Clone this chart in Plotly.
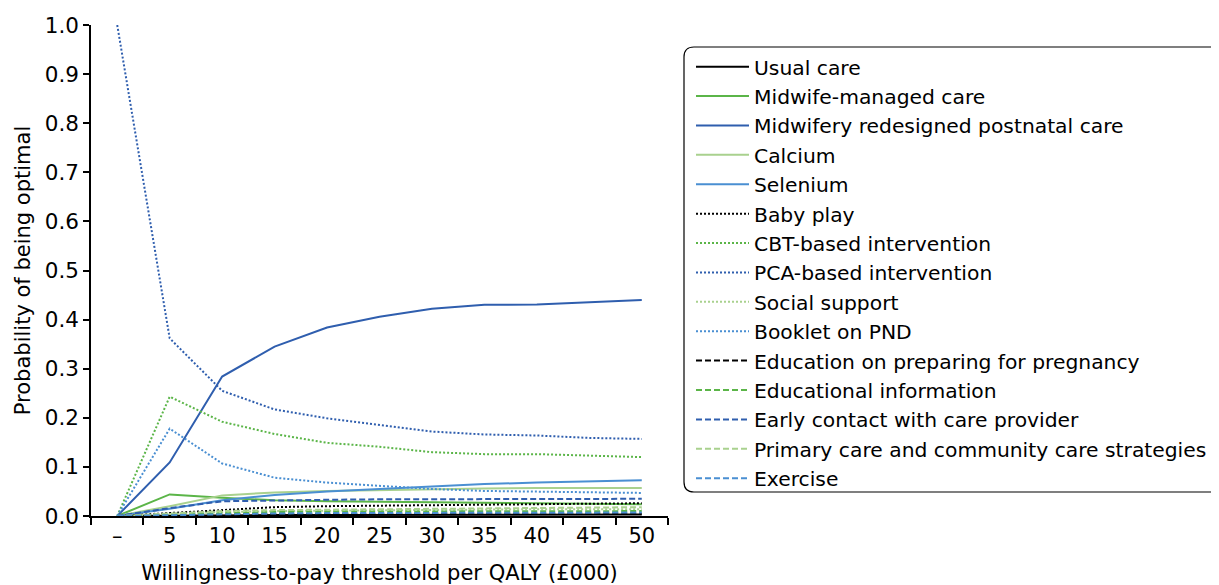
import plotly.graph_objects as go

categories = ["–", "5", "10", "15", "20", "25", "30", "35", "40", "45", "50"]

usual_care = [0, 0.001, 0.001, 0.002, 0.002, 0.002, 0.002, 0.003, 0.003, 0.003, 0.003]
midwife_managed = [0, 0.044, 0.037, 0.032, 0.030, 0.029, 0.028, 0.027, 0.026, 0.025, 0.024]
midwifery_redesigned = [0, 0.109, 0.284, 0.345, 0.384, 0.406, 0.422, 0.430, 0.431, 0.436, 0.440]
calcium = [0, 0.020, 0.042, 0.048, 0.051, 0.053, 0.055, 0.056, 0.057, 0.057, 0.057]
selenium = [0, 0.015, 0.032, 0.043, 0.050, 0.055, 0.059, 0.065, 0.068, 0.071, 0.073]
baby_play = [0, 0.006, 0.013, 0.018, 0.020, 0.021, 0.022, 0.024, 0.025, 0.026, 0.026]
cbt = [0, 0.243, 0.192, 0.167, 0.149, 0.141, 0.130, 0.126, 0.126, 0.123, 0.120]
pca = [1.0, 0.362, 0.255, 0.217, 0.199, 0.185, 0.172, 0.166, 0.164, 0.159, 0.157]
social_support = [0, 0.004, 0.008, 0.010, 0.011, 0.012, 0.013, 0.013, 0.014, 0.014, 0.014]
booklet = [0, 0.178, 0.107, 0.078, 0.068, 0.062, 0.055, 0.051, 0.050, 0.049, 0.047]
edu_preparing = [0, 0.002, 0.003, 0.004, 0.004, 0.004, 0.005, 0.005, 0.005, 0.005, 0.005]
edu_info = [0, 0.003, 0.006, 0.008, 0.009, 0.009, 0.009, 0.010, 0.010, 0.010, 0.010]
early_contact = [0, 0.016, 0.030, 0.032, 0.033, 0.034, 0.034, 0.035, 0.035, 0.035, 0.035]
primary_care = [0, 0.005, 0.010, 0.012, 0.013, 0.014, 0.015, 0.016, 0.017, 0.018, 0.018]
exercise = [0, 0.002, 0.004, 0.005, 0.006, 0.006, 0.007, 0.007, 0.007, 0.007, 0.007]

BLACK = "#000000"
GREEN = "#5BB548"
DBLUE = "#2F5EAE"
LGREEN = "#A9D18E"
LBLUE = "#4A8FD2"
DOT = "2px,2px"
DASH = "6px,3px"

series = [
    ("Usual care", usual_care, BLACK, "solid"),
    ("Midwife-managed care", midwife_managed, GREEN, "solid"),
    ("Midwifery redesigned postnatal care", midwifery_redesigned, DBLUE, "solid"),
    ("Calcium", calcium, LGREEN, "solid"),
    ("Selenium", selenium, LBLUE, "solid"),
    ("Baby play", baby_play, BLACK, DOT),
    ("CBT-based intervention", cbt, GREEN, DOT),
    ("PCA-based intervention", pca, DBLUE, DOT),
    ("Social support", social_support, LGREEN, DOT),
    ("Booklet on PND", booklet, LBLUE, DOT),
    ("Education on preparing for pregnancy", edu_preparing, BLACK, DASH),
    ("Educational information", edu_info, GREEN, DASH),
    ("Early contact with care provider", early_contact, DBLUE, DASH),
    ("Primary care and community care strategies", primary_care, LGREEN, DASH),
    ("Exercise", exercise, LBLUE, DASH),
]

fig = go.Figure()
for name, vals, col, dash in series:
    fig.add_trace(go.Scatter(
        x=categories, y=vals, mode="lines", name=name,
        line=dict(color=col, width=2, dash=dash),
    ))

FONT = "DejaVu Sans"
FIG_W, FIG_H = 1211, 577
fig.update_layout(
    width=FIG_W, height=FIG_H,
    margin=dict(l=83, r=551, t=17, b=69, autoexpand=False),
    paper_bgcolor="white", plot_bgcolor="white",
    font=dict(family=FONT, size=20, color="#000000"),
    showlegend=True,
    legend=dict(
        xref="container", yref="container",
        x=683 / FIG_W, y=1 - 39 / FIG_H, xanchor="left", yanchor="top",
        font=dict(family=FONT, size=20.3, color="#000000"),
        bgcolor="rgba(0,0,0,0)",
        itemwidth=53,
        maxheight=560,
    ),
    xaxis=dict(
        type="category", range=[-0.5, 10.5], automargin=True,
        showline=True, linecolor="#000000", linewidth=1.5,
        ticks="outside", tickson="boundaries", ticklen=7, tickcolor="#000000", tickwidth=1.5,
        showgrid=False, zeroline=False,
        tickfont=dict(size=21),
        title=dict(text="Willingness-to-pay threshold per QALY (£000)", font=dict(size=21), standoff=23),
    ),
    yaxis=dict(
        range=[0, 1.0], dtick=0.1, tickformat=".1f", automargin=False,
        showline=True, linecolor="#000000", linewidth=1.5,
        ticks="outside", ticklen=6, tickcolor="#000000", tickwidth=1.5,
        showgrid=False, zeroline=False,
        tickfont=dict(size=21.5),
        title=dict(text="Probability of being optimal", font=dict(size=21), standoff=8),
    ),
)

# rounded legend frame (decoration); coordinates measured in screen pixels
x0p, x1p = 684, 1232
y0p, y1p = 47, 492
W, H = 577, 491
def px(xp):
    return (xp - 91) / W
def py(yp):
    return (516 - yp) / H
r = 10
path = (
    f"M {px(x0p + r)},{py(y0p)} L {px(x1p - r)},{py(y0p)} "
    f"L {px(x1p)},{py(y0p)} L {px(x1p)},{py(y1p)} L {px(x1p - r)},{py(y1p)} "
    f"L {px(x0p + r)},{py(y1p)} Q {px(x0p)},{py(y1p)} {px(x0p)},{py(y1p - r)} "
    f"L {px(x0p)},{py(y0p + r)} Q {px(x0p)},{py(y0p)} {px(x0p + r)},{py(y0p)} Z"
)
fig.add_shape(type="path", xref="paper", yref="paper", path=path,
              line=dict(color="#000000", width=1.2), fillcolor="rgba(0,0,0,0)", layer="below")

fig.write_html("out.html")
